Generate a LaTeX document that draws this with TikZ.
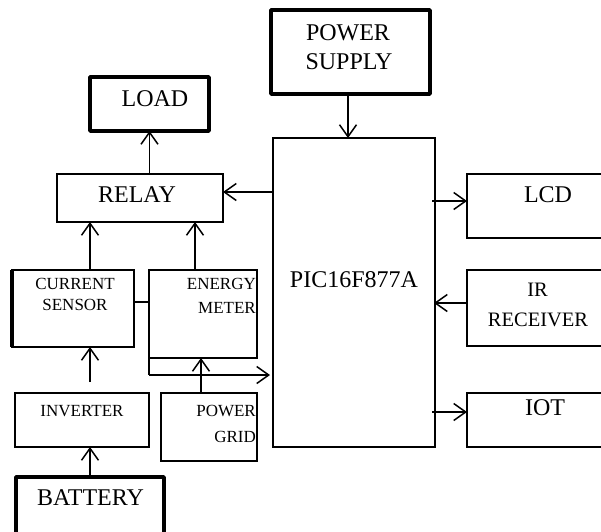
\documentclass[tikz,border=0pt]{standalone}
\usepackage{fontspec}
\setmainfont{Liberation Serif}
\usetikzlibrary{arrows.meta}
\begin{document}
\begin{tikzpicture}[x=1pt,y=-1pt,
  box/.style={draw,line width=1.4pt,inner sep=0pt,outer sep=0pt},
  thickbox/.style={draw,line width=3.6pt,line join=round,inner sep=0pt,outer sep=0pt},
  big/.style={font=\fontsize{24}{27}\selectfont,inner sep=0pt},
  mid/.style={font=\fontsize{20.5}{24}\selectfont,inner sep=0pt},
  small/.style={font=\fontsize{17}{20}\selectfont,inner sep=0pt},
  arr/.style={line width=1.5pt,-{Straight Barb[length=12pt,width=17pt,line width=1.5pt]}},
  ln/.style={line width=1.4pt}]
\clip (0,0) rectangle (601,531);
\fill[white] (0,0) rectangle (601,531);
% boxes
\node[thickbox,minimum width=159pt,minimum height=84pt] (ps) at (350.5,52) {};
\node[thickbox,minimum width=119pt,minimum height=54pt] (load) at (149.5,104) {};
\node[box,minimum width=166pt,minimum height=48pt] (relay) at (140,198) {};
\node[box,minimum width=162pt,minimum height=309pt] (pic) at (354,292.5) {};
\node[box,minimum width=145pt,minimum height=64pt] (lcd) at (539.5,206) {};
\node[box,minimum width=145pt,minimum height=76pt] (ir) at (539.5,308) {};
\node[box,minimum width=145pt,minimum height=54pt] (iot) at (539.5,420) {};
\node[box,minimum width=122pt,minimum height=77pt] (cs) at (73,308.5) {};
\draw[line width=3.6pt] (cs.north west) -- (cs.south west);
\node[box,minimum width=108pt,minimum height=88pt] (em) at (203,314) {};
\node[box,minimum width=134pt,minimum height=54pt] (inv) at (82,420) {};
\node[box,minimum width=96pt,minimum height=68pt] (pg) at (209,427) {};
\node[thickbox,minimum width=148pt,minimum height=68pt] (bat) at (90,511) {};
% texts
\node[big] (tps1) at (348,33) {POWER};
\node[big] (tps2) at (349,62) {SUPPLY};
\node[big] (tload) at (155,99) {LOAD};
\node[big] (trelay) at (137,194.5) {RELAY};
\node[big] (tpic) at (354,280) {PIC16F877A};
\node[big] (tlcd) at (548,195) {LCD};
\node[mid] (tir1) at (537.5,290) {IR};
\node[mid] (tir2) at (538,320) {RECEIVER};
\node[big] (tiot) at (545,408) {IOT};
\node[small] (tcs1) at (75,284) {CURRENT};
\node[small] (tcs2) at (75,305) {SENSOR};
\node[small,anchor=east] (tem1) at (256,284) {ENERGY};
\node[small,anchor=east] (tem2) at (256,308) {METER};
\node[small] (tinv) at (82,411) {INVERTER};
\node[small,anchor=east] (tpg1) at (256,411) {POWER};
\node[small,anchor=east] (tpg2) at (256,437) {GRID};
\node[big] (tbat) at (90.5,498) {BATTERY};
% connectors
\draw[arr] ([xshift=-2.5pt]ps.south) -- ([xshift=-2.5pt]ps.south |- pic.north);
\draw[arr] ([yshift=6pt]relay.east -| pic.west) -- ([yshift=6pt]relay.east);
\draw[arr] (load.south |- relay.north) -- (load.south);
\draw[arr] ([xshift=17pt]cs.north) -- ([xshift=17pt]cs.north |- relay.south);
\draw[arr] ([xshift=-8pt]em.north) -- ([xshift=-8pt]em.north |- relay.south);
\draw[ln] ([yshift=6.5pt]cs.east) -- ([yshift=6.5pt]cs.east -| em.west);
\draw[ln] (em.south west) -- ++(0,17) coordinate (emc);
\draw[arr] (emc) -- ([xshift=-3pt]emc -| pic.west);
\draw[arr] ([xshift=-8pt]pg.north) -- ([xshift=-8pt]pg.north |- em.south);
\draw[arr,shorten <=11pt] ([xshift=8pt]inv.north) -- ([xshift=8pt]inv.north |- cs.south);
\draw[arr] (bat.north) -- (bat.north |- inv.south);
\draw[arr] ([xshift=-3pt,yshift=5pt]pic.east |- lcd.west) -- ([yshift=5pt]lcd.west);
\draw[arr] ([yshift=5pt]ir.west) -- ([xshift=-1pt,yshift=5pt]pic.east |- ir.west);
\draw[arr] ([xshift=-3pt,yshift=8pt]pic.east |- iot.west) -- ([yshift=8pt]iot.west);
\end{tikzpicture}
\end{document}
